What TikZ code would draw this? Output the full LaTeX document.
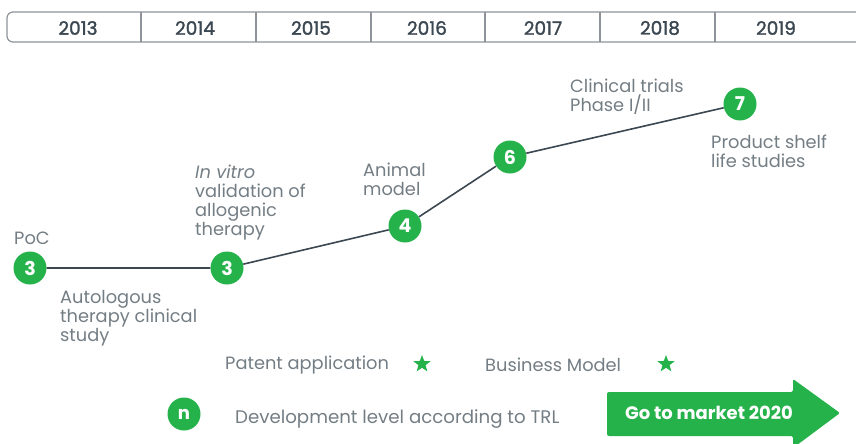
\documentclass[tikz,border=0pt]{standalone}
\usepackage{fontspec}
\setmainfont{Poppins}
\newfontfamily\yearfont[FakeBold=1.6]{Poppins}
\usetikzlibrary{shapes.geometric}
\definecolor{trlgreen}{HTML}{25B24B}
\definecolor{pathgrey}{HTML}{3B4751}
\definecolor{labelgrey}{HTML}{737D84}
\definecolor{bargrey}{HTML}{8E9399}
\tikzset{
  trl/.style={circle, fill=trlgreen, text=white, font=\fontsize{19}{19}\selectfont\bfseries, minimum size=33pt, inner sep=0pt},
  lbl/.style={text=labelgrey, font=\fontsize{17.8}{19}\selectfont, align=left, inner sep=0pt},
  year/.style={text=pathgrey, font=\yearfont\fontsize{18.5}{18.5}\selectfont},
  starmark/.style={star, star points=5, star point ratio=2.4, fill=trlgreen, minimum size=18pt, inner sep=0pt}
}

\begin{document}
\begin{tikzpicture}[x=1pt, y=-1pt]
    \useasboundingbox (0,0) rectangle (856,444);
    % timeline bar
    \draw[bargrey, line width=1.2pt, rounded corners=6pt] (856,12) -- (7,12) -- (7,42) -- (856,42);
    \foreach \x in {141,256,371,485,600,715}
        \draw[bargrey, line width=1.2pt] (\x,12) -- (\x,42);
    \foreach \yr/\x in {2013/78,2014/195,2015/311,2016/427,2017/543,2018/660,2019/776}
        \node[year] (y\yr) at (\x,28) {\yr};
    % TRL steps
    \node[trl] (s1) at (30,268) {3};
    \node[trl] (s2) at (227,268) {3};
    \node[trl] (s3) at (405,226) {4};
    \node[trl] (s4) at (510,157) {6};
    \node[trl] (s5) at (740,104) {7};
    \draw[pathgrey, line width=1.6pt] (s1) -- (s2) -- (s3) -- (s4) -- (s5);
    % milestones
    \node[lbl, anchor=west] (poc) at (14,238) {PoC};
    \node[lbl, anchor=north west] (auto) at (60,290) {Autologous\\therapy clinical\\study};
    \node[lbl, anchor=north west] (vitro) at (195,165) {\textit{In vitro}\\validation of\\allogenic\\therapy};
    \node[lbl, anchor=north west] (animal) at (363,163) {Animal\\model};
    \node[lbl, anchor=north west] (trials) at (570,79) {Clinical trials\\Phase I/II};
    \node[lbl, anchor=north west] (shelf) at (711,135) {Product shelf\\life studies};
    % legend
    \node[lbl, anchor=west] (patent) at (225,365) {Patent application};
    \node[starmark] (pstar) at (422,364) {};
    \node[lbl, anchor=west] (business) at (485,365) {Business Model};
    \node[starmark] (bstar) at (666,364) {};
    \node[trl, font=\fontsize{18}{18}\selectfont\bfseries] (n) at (184,414) {n};
    \node[lbl, anchor=west, font=\fontsize{18.2}{19}\selectfont] (dev) at (235,419) {Development level according to TRL};
    \fill[trlgreen, rounded corners=2pt] (607,392) -- (793,392) -- (793,379) -- (840,413) -- (793,448) -- (793,436) -- (607,436) -- cycle;
    \node[text=white, font=\fontsize{18}{18}\selectfont\bfseries] (market) at (709,413) {Go to market 2020};
\end{tikzpicture}
\end{document}
